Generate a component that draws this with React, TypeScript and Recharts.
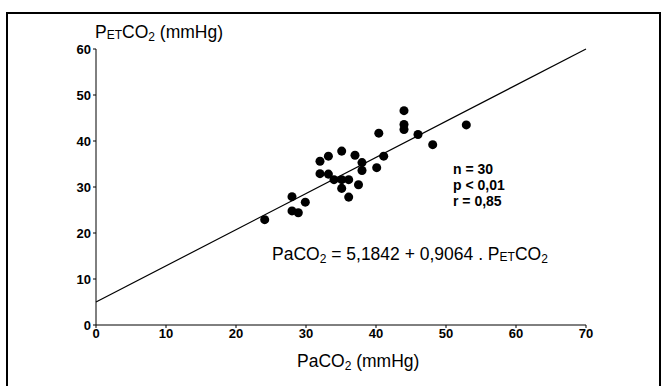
import React from "react";
import {
  ScatterChart,
  Scatter,
  XAxis,
  YAxis,
  ZAxis,
  ReferenceLine,
  Customized,
} from "recharts";

// PaCO2 (x) vs PETCO2 (y), mmHg
const paco2 = [
  24.1, 28.0, 28.0, 28.9, 29.9, 32.0, 32.0, 33.2, 33.2, 34.0, 35.1, 35.1, 35.1, 36.1,
  36.1, 37.0, 37.5, 38.0, 38.0, 40.1, 40.4, 41.1, 44.0, 44.0, 44.0, 46.0, 48.1, 52.9,
];
const petco2 = [
  22.9, 27.9, 24.8, 24.4, 26.7, 35.6, 32.9, 36.7, 32.8, 31.6, 37.8, 31.6, 29.7, 31.6,
  27.8, 36.9, 30.5, 35.3, 33.6, 34.2, 41.7, 36.7, 46.6, 43.6, 42.5, 41.4, 39.2, 43.5,
];

// regression line as drawn
const fitStart = { x: 0, y: 5.0 };
const fitEnd = { x: 70, y: 60 };

const xTicks = [0, 10, 20, 30, 40, 50, 60, 70];
const yTicks = [0, 10, 20, 30, 40, 50, 60];

const stats = ["n = 30", "p < 0,01", "r = 0,85"];

const points = paco2.map((x, i) => ({ x, y: petco2[i] }));

const font = "'Liberation Sans', Arial, sans-serif";

const tickStyle = { fill: "#000", fontSize: 13, fontWeight: 700, fontFamily: font };

function Annotations() {
  return (
    <g fontFamily={font} fill="#000">
      {/* frame */}
      <path d="M7 386 V13 H660 V386" fill="none" stroke="#000" strokeWidth={2} />

      {/* y axis title */}
      <text x={95} y={38} fontSize={17.5}>
        P<tspan fontSize={12} dy={1}>ET</tspan>
        <tspan dy={-1}>CO</tspan>
        <tspan fontSize={12} dy={3}>2</tspan>
        <tspan dy={-3}> (mmHg)</tspan>
      </text>

      {/* x axis title */}
      <text x={297} y={367} fontSize={17.5}>
        PaCO<tspan fontSize={12} dy={3}>2</tspan>
        <tspan dy={-3}> (mmHg)</tspan>
      </text>

      {/* stats */}
      {stats.map((s, i) => (
        <text key={s} x={453} y={174 + i * 16} fontSize={14} fontWeight={700}>
          {s}
        </text>
      ))}

      {/* equation */}
      <text x={272} y={260} fontSize={17.5}>
        PaCO<tspan fontSize={12} dy={3}>2</tspan>
        <tspan dy={-3}> = 5,1842 + 0,9064 . P</tspan>
        <tspan fontSize={12} dy={1}>ET</tspan>
        <tspan dy={-1}>CO</tspan>
        <tspan fontSize={12} dy={3}>2</tspan>
      </text>
    </g>
  );
}

export default function App() {
  return (
    <div style={{ position: "absolute", left: 0, top: 0, background: "#fff" }}>
      <ScatterChart
        width={666}
        height={386}
        margin={{ top: 49, right: 80, bottom: 31, left: 56 }}
      >
        <XAxis
          type="number"
          dataKey="x"
          domain={[0, 70]}
          ticks={xTicks}
          tick={tickStyle}
          tickSize={3}
          tickMargin={1}
          height={30}
          stroke="#000"
          allowDataOverflow
        />
        <YAxis
          type="number"
          dataKey="y"
          domain={[0, 60]}
          ticks={yTicks}
          tick={tickStyle}
          tickSize={3}
          tickMargin={2}
          width={40}
          stroke="#000"
          allowDataOverflow
        />
        <ZAxis range={[28, 28]} />
        <ReferenceLine segment={[fitStart, fitEnd]} stroke="#000" strokeWidth={1.2} />
        <Scatter data={points} fill="#000" isAnimationActive={false} />
        <Customized component={<Annotations />} />
      </ScatterChart>
    </div>
  );
}
